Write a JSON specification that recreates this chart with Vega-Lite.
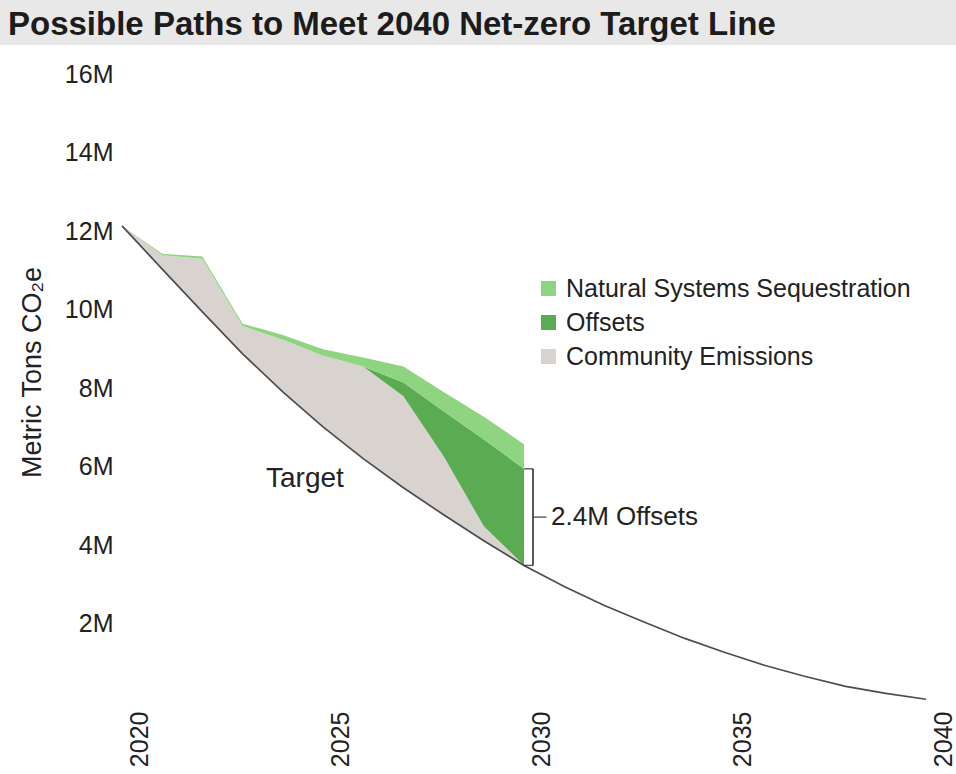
{
  "$schema": "https://vega.github.io/schema/vega-lite/v6.json",
  "padding": 0,
  "background": "#ffffff",
  "spacing": 17,
  "config": {"view": {"stroke": null}, "font": "Liberation Sans"},
  "datasets": {
    "paths": [
      {"year": 2020, "target": 12.13, "emissions": 12.13, "with_offsets": 12.13, "with_sequestration": 12.13},
      {"year": 2021, "target": 11.03, "emissions": 11.38, "with_offsets": 11.38, "with_sequestration": 11.42},
      {"year": 2022, "target": 9.94, "emissions": 11.29, "with_offsets": 11.29, "with_sequestration": 11.35},
      {"year": 2023, "target": 8.87, "emissions": 9.58, "with_offsets": 9.58, "with_sequestration": 9.64},
      {"year": 2024, "target": 7.9, "emissions": 9.23, "with_offsets": 9.23, "with_sequestration": 9.35},
      {"year": 2025, "target": 7.01, "emissions": 8.82, "with_offsets": 8.82, "with_sequestration": 8.99},
      {"year": 2026, "target": 6.2, "emissions": 8.55, "with_offsets": 8.55, "with_sequestration": 8.78},
      {"year": 2027, "target": 5.46, "emissions": 7.79, "with_offsets": 8.14, "with_sequestration": 8.55},
      {"year": 2028, "target": 4.77, "emissions": 6.26, "with_offsets": 7.41, "with_sequestration": 7.9},
      {"year": 2029, "target": 4.11, "emissions": 4.48, "with_offsets": 6.69, "with_sequestration": 7.27},
      {"year": 2030, "target": 3.48, "emissions": 3.48, "with_offsets": 5.94, "with_sequestration": 6.57}
    ],
    "target": [
      {"year": 2020, "target": 12.13},
      {"year": 2021, "target": 11.03},
      {"year": 2022, "target": 9.94},
      {"year": 2023, "target": 8.87},
      {"year": 2024, "target": 7.9},
      {"year": 2025, "target": 7.01},
      {"year": 2026, "target": 6.2},
      {"year": 2027, "target": 5.46},
      {"year": 2028, "target": 4.77},
      {"year": 2029, "target": 4.11},
      {"year": 2030, "target": 3.48},
      {"year": 2031, "target": 2.94},
      {"year": 2032, "target": 2.46},
      {"year": 2033, "target": 2.03},
      {"year": 2034, "target": 1.62},
      {"year": 2035, "target": 1.26},
      {"year": 2036, "target": 0.93},
      {"year": 2037, "target": 0.65},
      {"year": 2038, "target": 0.4},
      {"year": 2039, "target": 0.22},
      {"year": 2040, "target": 0.07}
    ]
  },
  "resolve": {"legend": {"color": "independent"}},
  "vconcat": [
    {
      "width": 956,
      "height": 45,
      "view": {"fill": "#e8e8e8", "stroke": null},
      "title": {
        "text": "Possible Paths to Meet 2040 Net-zero Target Line",
        "anchor": "start",
        "frame": "group",
        "orient": "top",
        "offset": -42,
        "dx": 8,
        "font": "Liberation Sans",
        "fontSize": 33,
        "fontWeight": "bold",
        "color": "#1c1c1c"
      },
      "data": {"values": [{}]},
      "mark": {"type": "point", "opacity": 0},
      "encoding": {}
    },
    {
      "width": 926,
      "height": 628,
      "layer": [
        {
          "data": {"name": "paths"},
          "mark": {"type": "area", "opacity": 1},
          "encoding": {
            "x": {
              "field": "year", "type": "quantitative",
              "scale": {"domain": [2020, 2040], "range": [122, 926], "nice": false, "zero": false},
              "axis": {
                "values": [2020, 2025, 2030, 2035, 2040], "format": "d", "labelAngle": -90,
                "labelOffset": 17, "labelFontSize": 25, "labelColor": "#222222", "labelPadding": 9,
                "ticks": false, "domain": false, "grid": false, "title": null
              }
            },
            "y": {
              "field": "emissions", "type": "quantitative",
              "scale": {"domain": [0, 16], "nice": false},
              "axis": {
                "offset": -122,
                "values": [2, 4, 6, 8, 10, 12, 14, 16], "labelExpr": "datum.value + 'M'",
                "labelFontSize": 25, "labelColor": "#222222", "labelPadding": 9,
                "ticks": false, "domain": false, "grid": false,
                "title": "Metric Tons CO₂e", "titleFontSize": 27, "titleFontWeight": "normal",
                "titleColor": "#222222", "titlePadding": 18, "titleY": 298
              }
            },
            "y2": {"field": "target"},
            "color": {
              "datum": "Community Emissions",
              "scale": {
                "domain": ["Natural Systems Sequestration", "Offsets", "Community Emissions"],
                "range": ["#8fd581", "#5aab52", "#d9d3d0"]
              },
              "legend": {
                "title": null, "orient": "none", "legendX": 536, "legendY": 202,
                "symbolType": "square", "symbolSize": 225, "symbolStrokeWidth": 0,
                "labelFontSize": 25, "labelColor": "#222222", "rowPadding": 8, "labelOffset": 5,
                "labelLimit": 500
              }
            }
          }
        },
        {
          "data": {"name": "paths"},
          "mark": {"type": "area"},
          "encoding": {
            "x": {"field": "year", "type": "quantitative"},
            "y": {"field": "with_offsets", "type": "quantitative"},
            "y2": {"field": "emissions"},
            "color": {"datum": "Offsets"}
          }
        },
        {
          "data": {"name": "paths"},
          "mark": {"type": "area"},
          "encoding": {
            "x": {"field": "year", "type": "quantitative"},
            "y": {"field": "with_sequestration", "type": "quantitative"},
            "y2": {"field": "with_offsets"},
            "color": {"datum": "Natural Systems Sequestration"}
          }
        },
        {
          "data": {"name": "target"},
          "mark": {"type": "line", "color": "#4d4d4d", "strokeWidth": 1.7},
          "encoding": {
            "x": {"field": "year", "type": "quantitative"},
            "y": {"field": "target", "type": "quantitative"}
          }
        },
        {
          "data": {"name": "paths"},
          "transform": [{"filter": "datum.year == 2030"}],
          "mark": {"type": "rule", "color": "#222222", "strokeWidth": 1.5, "xOffset": 9},
          "encoding": {
            "x": {"field": "year", "type": "quantitative"},
            "y": {"field": "emissions", "type": "quantitative"},
            "y2": {"field": "with_offsets"}
          }
        },
        {
          "data": {"name": "paths"},
          "transform": [{"filter": "datum.year == 2030"}],
          "mark": {"type": "tick", "orient": "horizontal", "color": "#222222", "size": 9, "thickness": 1.5, "xOffset": 4.5},
          "encoding": {
            "x": {"field": "year", "type": "quantitative"},
            "y": {"field": "emissions", "type": "quantitative"}
          }
        },
        {
          "data": {"name": "paths"},
          "transform": [{"filter": "datum.year == 2030"}],
          "mark": {"type": "tick", "orient": "horizontal", "color": "#222222", "size": 9, "thickness": 1.5, "xOffset": 4.5},
          "encoding": {
            "x": {"field": "year", "type": "quantitative"},
            "y": {"field": "with_offsets", "type": "quantitative"}
          }
        },
        {
          "data": {"values": [{}]},
          "mark": {"type": "tick", "orient": "horizontal", "color": "#222222", "size": 13, "thickness": 1.5, "xOffset": 16},
          "encoding": {
            "x": {"datum": 2030, "type": "quantitative"},
            "y": {"datum": 4.71, "type": "quantitative"}
          }
        },
        {
          "data": {"values": [{}]},
          "mark": {"type": "text", "text": "2.4M Offsets", "align": "left", "baseline": "middle", "dx": 27, "fontSize": 26, "color": "#222222"},
          "encoding": {
            "x": {"datum": 2030, "type": "quantitative"},
            "y": {"datum": 4.71, "type": "quantitative"}
          }
        },
        {
          "data": {"values": [{}]},
          "mark": {"type": "text", "text": "Target", "align": "center", "baseline": "middle", "fontSize": 28, "color": "#222222"},
          "encoding": {
            "x": {"datum": 2024.55, "type": "quantitative"},
            "y": {"datum": 5.69, "type": "quantitative"}
          }
        }
      ]
    }
  ]
}
